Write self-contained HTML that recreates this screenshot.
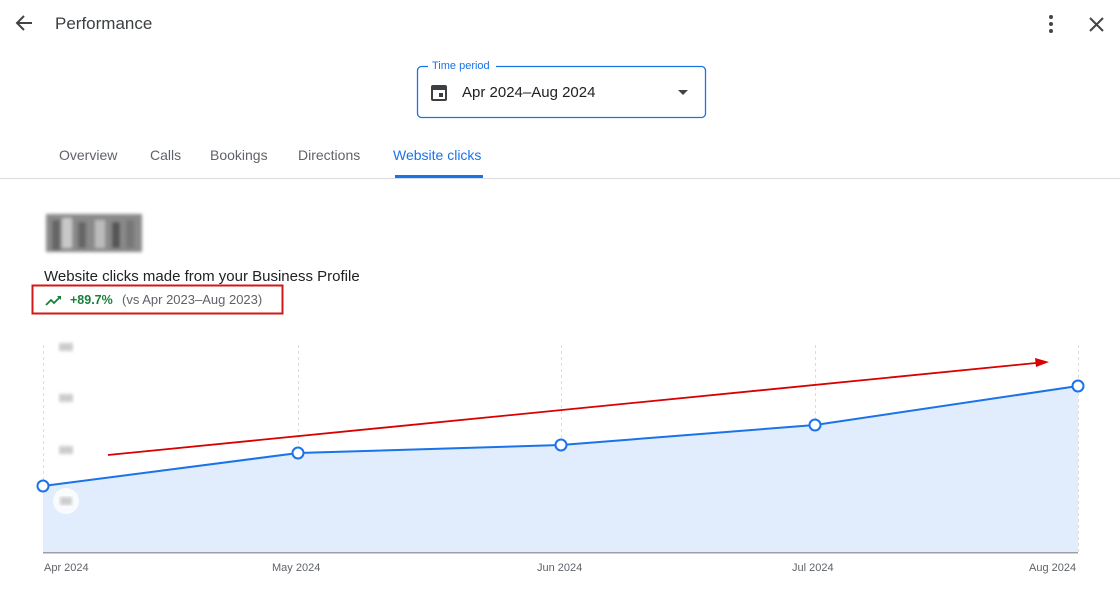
<!DOCTYPE html>
<html><head><meta charset="utf-8"><style>
body{margin:0;width:1120px;height:598px;background:#fff;overflow:hidden;font-family:"Liberation Sans",Arial,sans-serif}
svg{display:block}
</style></head><body>
<svg width="1120" height="598" viewBox="0 0 1120 598" xmlns="http://www.w3.org/2000/svg" font-family="Liberation Sans, Arial, sans-serif">
<defs><filter id="bl"><feGaussianBlur stdDeviation="3"/></filter><filter id="bl2"><feGaussianBlur stdDeviation="1.5"/></filter></defs>
<path d="M32 23H17M24 16l-7 7 7 7" stroke="#444" stroke-width="2" fill="none"/>
<text x="55" y="29" font-size="17" fill="#3c4043">Performance</text>
<circle cx="1051" cy="17" r="2" fill="#444"/><circle cx="1051" cy="24" r="2" fill="#444"/><circle cx="1051" cy="31" r="2" fill="#444"/>
<path d="M1090 18l13 13M1103 18l-13 13" stroke="#444" stroke-width="2"/>
<rect x="417.5" y="66.5" width="288" height="51" rx="4" fill="none" stroke="#1a73e8" stroke-width="1.3"/>
<rect x="428" y="59" width="68" height="12" fill="#fff"/>
<text x="432" y="69" font-size="11" fill="#1a73e8">Time period</text>
<rect x="431" y="85" width="16" height="16" rx="2" fill="#3c4043"/>
<rect x="433" y="90" width="12" height="9" fill="#fff"/>
<rect x="439" y="93" width="4" height="4" fill="#3c4043"/>
<text x="462" y="97" font-size="15" fill="#202124">Apr 2024–Aug 2024</text>
<path d="M678 90h10l-5 5z" fill="#444"/>
<g font-size="14" fill="#5f6368">
<text x="59" y="160">Overview</text><text x="150" y="160">Calls</text><text x="210" y="160">Bookings</text><text x="298" y="160">Directions</text>
<text x="393" y="160" fill="#1a73e8">Website clicks</text></g>
<rect x="395" y="175" width="88" height="3" fill="#1a73e8"/>
<rect x="0" y="178" width="1120" height="1" fill="#dadce0"/>
<g filter="url(#bl2)"><rect x="46" y="214" width="96" height="38" fill="#8a8a8a"/><rect x="52" y="220" width="8" height="30" fill="#666"/><rect x="62" y="218" width="10" height="30" fill="#c8c8c8"/><rect x="78" y="222" width="8" height="26" fill="#666"/><rect x="95" y="220" width="10" height="28" fill="#bbb"/><rect x="112" y="222" width="8" height="26" fill="#555"/><rect x="126" y="220" width="8" height="28" fill="#777"/></g>
<text x="44" y="281" font-size="15" fill="#202124">Website clicks made from your Business Profile</text>
<rect x="32.5" y="285.5" width="250" height="28" fill="none" stroke="#d01818" stroke-width="2"/>
<path d="M46 305l5-5 3 3 6-6" stroke="#188038" stroke-width="1.8" fill="none"/><path d="M57 296h4v4z" fill="#188038"/>
<text x="70" y="304" font-size="12.5" fill="#188038" font-weight="bold">+89.7%</text>
<text x="122" y="304" font-size="13" fill="#5f6368">(vs Apr 2023–Aug 2023)</text>
<g stroke="#ddd" stroke-dasharray="3,3"><path d="M43.5 345V553M298.5 345V553M561.5 345V553M815.5 345V553M1078.5 345V553"/></g>
<polygon points="43,486 298,453 561,445 815,425 1078,386 1078,553 43,553" fill="#e1ecfc"/>
<rect x="43" y="552" width="1035" height="1.5" fill="#9aa0a6"/>
<g fill="#ccc" filter="url(#bl2)"><rect x="59" y="343" width="14" height="8"/><rect x="59" y="394" width="14" height="8"/><rect x="59" y="446" width="14" height="8"/></g>
<circle cx="66" cy="501" r="13" fill="#fff" opacity=".8"/><rect x="60" y="497" width="12" height="8" fill="#ccc" filter="url(#bl2)"/>
<polyline points="43,486 298,453 561,445 815,425 1078,386" fill="none" stroke="#1a73e8" stroke-width="2"/>
<g fill="#fff" stroke="#1a73e8" stroke-width="2"><circle cx="43" cy="486" r="5.5"/><circle cx="298" cy="453" r="5.5"/><circle cx="561" cy="445" r="5.5"/><circle cx="815" cy="425" r="5.5"/><circle cx="1078" cy="386" r="5.5"/></g>
<line x1="108" y1="455" x2="1036" y2="363" stroke="#d80000" stroke-width="1.8"/>
<path d="M1049 362l-14-4 1 9z" fill="#d80000"/>
<g font-size="11" fill="#5f6368"><text x="44" y="571">Apr 2024</text><text x="272" y="571">May 2024</text><text x="537" y="571">Jun 2024</text><text x="792" y="571">Jul 2024</text><text x="1029" y="571">Aug 2024</text></g>
</svg>
</body></html>
